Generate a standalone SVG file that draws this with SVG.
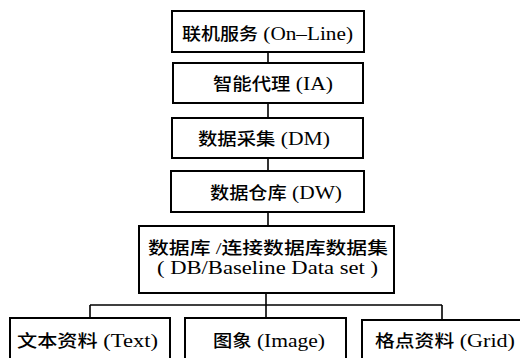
<svg xmlns="http://www.w3.org/2000/svg" width="520" height="358" viewBox="0 0 520 358">
<style>
.box{fill:#fff;stroke:#000;stroke-width:2}
.ln{fill:none;stroke:#000;stroke-width:1.6}
text{font-family:"Liberation Serif","Noto Sans CJK SC",serif;font-size:17px;fill:#000;font-weight:500}
.l{font-size:19px;font-weight:normal}
</style>
<rect width="520" height="358" fill="#fff"/>
<g id="connectors">
<path class="ln" d="M268 52V63M268 103V118M268 158V171M268 212V226M266 293V318M90 305H442M90 305V318M442 305V320"/>
</g>
<g id="n1"><rect class="box" x="172" y="11" width="192" height="41"/><text x="182" y="40" textLength="171" lengthAdjust="spacingAndGlyphs">联机服务<tspan class="l"> (On–Line)</tspan></text></g>
<g id="n2"><rect class="box" x="173" y="63" width="190" height="40"/><text x="213" y="90" textLength="120" lengthAdjust="spacingAndGlyphs">智能代理<tspan class="l"> (IA)</tspan></text></g>
<g id="n3"><rect class="box" x="172" y="118" width="191" height="40"/><text x="198" y="145" textLength="132" lengthAdjust="spacingAndGlyphs">数据采集<tspan class="l"> (DM)</tspan></text></g>
<g id="n4"><rect class="box" x="171" y="171" width="193" height="41"/><text x="210" y="199" textLength="132" lengthAdjust="spacingAndGlyphs">数据仓库<tspan class="l"> (DW)</tspan></text></g>
<g id="n5"><rect class="box" x="139" y="226" width="255" height="67"/><text x="148" y="254" textLength="240" lengthAdjust="spacingAndGlyphs">数据库 /连接数据库数据集</text><text class="l" x="157" y="274" textLength="221" lengthAdjust="spacingAndGlyphs">( DB/Baseline Data set )</text></g>
<g id="n6"><rect class="box" x="10" y="318" width="160" height="45"/><text x="17" y="347" textLength="141" lengthAdjust="spacingAndGlyphs">文本资料<tspan class="l"> (Text)</tspan></text></g>
<g id="n7"><rect class="box" x="185" y="318" width="161" height="45"/><text x="213" y="347" textLength="112" lengthAdjust="spacingAndGlyphs">图象<tspan class="l"> (Image)</tspan></text></g>
<g id="n8"><rect class="box" x="362" y="320" width="165" height="45"/><text x="375" y="347" textLength="140" lengthAdjust="spacingAndGlyphs">格点资料<tspan class="l"> (Grid)</tspan></text></g>
</svg>
